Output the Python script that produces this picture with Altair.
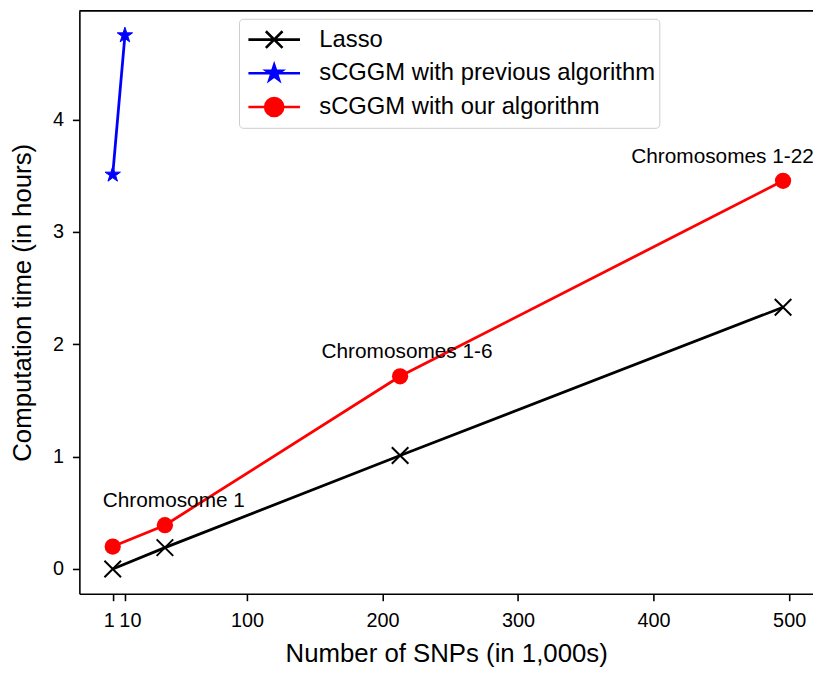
import altair as alt
import pandas as pd

# ---------------- data ----------------
series_names = ["Lasso", "sCGGM with previous algorithm", "sCGGM with our algorithm"]

lasso_x = [1, 39.5, 213, 495.5]
lasso_y = [0.0, 0.19, 1.01, 2.33]

prev_x = [1, 10]
prev_y = [3.51, 4.75]

ours_x = [1, 39.5, 213, 495.5]
ours_y = [0.2, 0.39, 1.715, 3.455]
ours_labels = ["", "Chromosome 1", "Chromosomes 1-6", "Chromosomes 1-22"]

x_ticks = [1, 10, 100, 200, 300, 400, 500]
y_ticks = [0, 1, 2, 3, 4]

# ---------------- styling ----------------
colors = ["#000000", "#0000ff", "#ff0000"]
FONT = "Liberation Sans"

STAR_PTS = [(0, -1), (0.2245, -0.309), (0.951, -0.309), (0.363, 0.118), (0.588, 0.809),
            (0, 0.382), (-0.588, 0.809), (-0.363, 0.118), (-0.951, -0.309), (-0.2245, -0.309)]


def star_path(k):
    return "M" + "L".join(f"{px*k:.4f},{py*k:.4f}" for px, py in STAR_PTS) + "Z"


def x_path(k):
    return f"M{-k},{-k}L{k},{k}M{-k},{k}L{k},{-k}"


def circle_path(r):
    return f"M{-r},0A{r},{r},0,1,1,{r},0A{r},{r},0,1,1,{-r},0Z"


X_PATH = x_path(1)
STAR_PATH = star_path(1.0)
# legend symbols: a line with the marker in its middle (unit = 30 px)
LEG_LINE = "M-0.867,0H0.867"
LEG_X = LEG_LINE + x_path(0.28)
LEG_STAR = LEG_LINE + star_path(0.28)
LEG_CIRCLE = LEG_LINE + circle_path(0.305)

# ---------------- table ----------------
rows = []
for name, xs_, ys_ in [(series_names[0], lasso_x, lasso_y),
                       (series_names[1], prev_x, prev_y),
                       (series_names[2], ours_x, ours_y)]:
    for i, (a, b) in enumerate(zip(xs_, ys_)):
        lab = ours_labels[i] if name == series_names[2] else ""
        rows.append({"series": name, "x": a, "y": b, "order": i, "label": lab})
df = pd.DataFrame(rows)

W, H = 740, 588
x_scale = alt.Scale(domain=[-23.6, 517.6], nice=False, zero=False)
y_scale = alt.Scale(domain=[-0.2206, 4.968], nice=False, zero=False)

x_enc = alt.X(
    "x:Q", scale=x_scale, title="Number of SNPs (in 1,000s)",
    axis=alt.Axis(
        values=x_ticks, format="d", labelOverlap=False, labelFlush=False,
        labelOffset={"condition": [{"test": "datum.value == 1", "value": -4},
                                   {"test": "datum.value == 10", "value": 5}],
                     "value": 0},
        labelPadding=10, titlePadding=10,
    ),
)
y_enc = alt.Y(
    "y:Q", scale=y_scale, title="Computation time (in hours)",
    axis=alt.Axis(values=y_ticks, format="d", labelPadding=9, titlePadding=17,
                  labelFlush=False),
)

base = alt.Chart(df)

# one line layer per series, with constant colours
line_layers = []
for name, col in zip(series_names, colors):
    line_layers.append(
        base.transform_filter(alt.datum.series == name)
        .mark_line(strokeWidth=2.8, color=col)
        .encode(x=x_enc, y=y_enc, order="order:Q")
    )

lasso_pts = base.transform_filter(alt.datum.series == series_names[0]).mark_point(
    shape=X_PATH, size=279, filled=False, stroke=colors[0], strokeWidth=2, opacity=1
).encode(x=x_enc, y=y_enc)

prev_pts = base.transform_filter(alt.datum.series == series_names[1]).mark_point(
    shape=STAR_PATH, size=266, filled=True, fill=colors[1], stroke=colors[1],
    strokeWidth=1, opacity=1
).encode(x=x_enc, y=y_enc)

ours_pts = base.transform_filter(alt.datum.series == series_names[2]).mark_point(
    shape="circle", size=268, filled=True, fill=colors[2], opacity=1
).encode(x=x_enc, y=y_enc)

# annotations attached to the red series points
label_dx = {"Chromosome 1": 9, "Chromosomes 1-6": 7, "Chromosomes 1-22": -61}
texts = []
for lab, dx in label_dx.items():
    texts.append(
        base.transform_filter(alt.datum.label == lab).mark_text(
            font=FONT, fontSize=21, color="black", dx=dx, dy=-24,
            align="center", baseline="middle"
        ).encode(x=x_enc, y=y_enc, text="label:N")
    )

# legend-only layer (marks transparent, legend symbols opaque)
leg = alt.Legend(
    title=None, orient="none", legendX=161, legendY=8,
    padding=4, rowPadding=0, clipHeight=34,
    symbolSize=3600, symbolStrokeWidth=2.6, symbolOpacity=1,
    labelFontSize=24, labelFont=FONT, labelColor="black", labelOffset=14,
    labelLimit=0,
    fillColor="white", strokeColor="#cccccc", cornerRadius=4,
)
legend_layer = base.mark_point(opacity=0, filled=True).encode(
    x=x_enc, y=y_enc,
    shape=alt.Shape("series:N", scale=alt.Scale(domain=series_names,
                                                range=[LEG_X, LEG_STAR, LEG_CIRCLE]),
                    legend=leg),
    fill=alt.Fill("series:N", scale=alt.Scale(domain=series_names, range=colors), legend=leg),
    stroke=alt.Stroke("series:N", scale=alt.Scale(domain=series_names, range=colors), legend=leg),
)

top_spine = alt.Chart(pd.DataFrame({"k": [0]})).mark_rule(
    color="black", strokeWidth=1.6
).encode(x=alt.value(0), x2=alt.value(W), y=alt.value(0))

chart = alt.layer(*line_layers, lasso_pts, prev_pts, ours_pts, *texts, legend_layer,
                  top_spine).properties(
    width=W, height=H,
    background="white",
    autosize=alt.AutoSizeParams(type="none"),
    padding={"left": 72, "top": 0, "right": 0, "bottom": 71},
).configure_view(
    stroke=None
).configure_axis(
    grid=False, domainColor="black", domainWidth=1.6,
    tickColor="black", tickWidth=1.6, tickSize=7,
    labelFont=FONT, labelFontSize=20, labelColor="black",
    titleFont=FONT, titleFontSize=26, titleFontWeight="normal", titleColor="black",
)

chart.save("out.html", embed_options={"renderer": "svg", "actions": False})
